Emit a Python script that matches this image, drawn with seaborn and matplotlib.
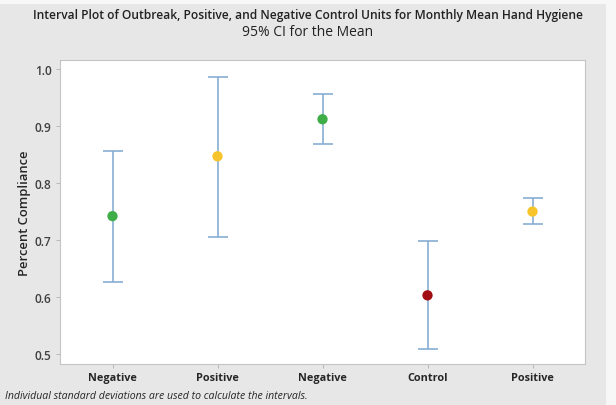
import matplotlib
matplotlib.use("Agg")
import matplotlib.pyplot as plt
from matplotlib.patches import Rectangle
import seaborn as sns
import pandas as pd

# Unit groups and their monthly mean hand hygiene compliance with 95% CI
groups = ["Negative", "Positive", "Negative", "Control", "Positive"]
means = [0.742, 0.847, 0.912, 0.603, 0.750]
ci_low = [0.627, 0.706, 0.869, 0.508, 0.729]
ci_high = [0.857, 0.987, 0.957, 0.698, 0.774]
kinds = ["neg", "pos", "neg", "ctrl", "pos"]
yticks = [0.5, 0.6, 0.7, 0.8, 0.9, 1.0]

palette = {"neg": "#3fae49", "pos": "#f7c42c", "ctrl": "#a10d12"}
bar_color = "#86aed3"
bg = "#e7e7e7"

df = pd.DataFrame({
    "pos": range(len(groups)),
    "group": groups,
    "mean": means,
    "lo": ci_low,
    "hi": ci_high,
    "kind": kinds,
})

sns.set_theme(style="white")
plt.rcParams["font.family"] = ["Open Sans", "DejaVu Sans"]

fig = plt.figure(figsize=(6.16, 4.06), dpi=100, facecolor=bg)
ax = fig.add_axes([60 / 616, 41 / 406, 525 / 616, 304 / 406])
ax.set_facecolor("white")

# Confidence interval whiskers with caps
ax.errorbar(
    df["pos"], df["mean"],
    yerr=[df["mean"] - df["lo"], df["hi"] - df["mean"]],
    fmt="none", ecolor=bar_color, elinewidth=1.2, capsize=7.5, capthick=1.2,
    zorder=2,
)

# Group means
sns.scatterplot(
    data=df, x="pos", y="mean", hue="kind", palette=palette,
    s=55, edgecolor="none", legend=False, ax=ax, zorder=3,
)

ax.set_xlim(-0.5, 4.5)
ax.set_ylim(0.4825, 1.016)
ax.set_xticks(df["pos"])
ax.set_xticklabels(groups, fontsize=7.8, fontweight="bold", color="#262626")
ax.set_yticks(yticks)
ax.set_yticklabels([f"{t:.1f}" for t in yticks], fontsize=8.6,
                   fontweight="semibold", color="#404040")
ax.tick_params(axis="both", direction="out", length=3, width=0.6,
               color="#b0b0b0", pad=3, bottom=True, left=True)
ax.set_xlabel("")
ax.set_ylabel("Percent Compliance", fontsize=9.4, fontweight="semibold",
              color="#262626", labelpad=3)
for sp in ax.spines.values():
    sp.set_color("#c4c4c4")
    sp.set_linewidth(0.8)

fig.text(0.5, 1 - 16 / 406,
         "Interval Plot of Outbreak, Positive, and Negative Control Units for Monthly Mean Hand Hygiene",
         ha="center", va="center", fontsize=8.65, fontweight="semibold", color="#222222")
fig.text(0.5, 1 - 33 / 406, "95% CI for the Mean",
         ha="center", va="center", fontsize=10, color="#222222")
fig.text(5 / 616, 1 - 397 / 406,
         "Individual standard deviations are used to calculate the intervals.",
         ha="left", va="center", fontsize=7.6, style="italic", color="#262626")

# Light frame along the top and right edges of the panel
fig.patches.append(Rectangle((0, 1 - 5 / 406), 1, 5 / 406, transform=fig.transFigure,
                             facecolor="#f7f7f7", edgecolor="none", zorder=0))
fig.patches.append(Rectangle((606 / 616, 0), 10 / 616, 1, transform=fig.transFigure,
                             facecolor="#f7f7f7", edgecolor="none", zorder=0))

fig.savefig("out.png", dpi=100, facecolor=bg)
